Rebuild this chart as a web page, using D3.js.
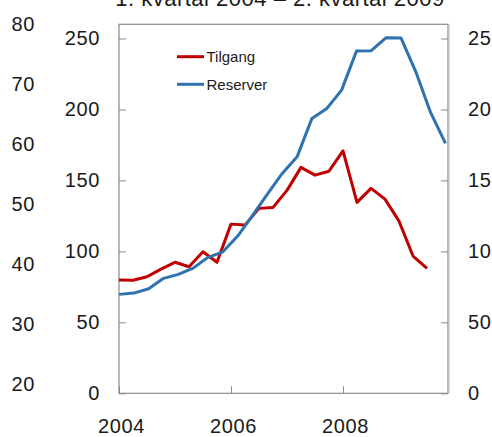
<!DOCTYPE html>
<html><head><meta charset="utf-8">
<script src="https://cdn.jsdelivr.net/npm/d3@7"></script>
<style>
html,body{margin:0;padding:0;background:#fff;overflow:hidden}
svg{display:block}
text{font-family:"Liberation Sans",Arial,sans-serif;fill:#1a1a1a}
</style></head>
<body>
<svg id="c" width="492" height="437"></svg>
<script>
// ---- data ----
const title = "1. kvartal 2004 – 2. kvartal 2009";
const seriesNames = ["Tilgang", "Reserver"];
const seriesColors = ["#c00000", "#2f73ae"];
const quarterStart = 2004;           // first quarter = 2004 Q1
const tilgang = [79.8,79.6,82.1,87.5,92.3,89.2,99.7,92.3,119.2,118.5,130.3,131.0,143.0,159.2,153.7,156.5,170.8,134.5,144.4,136.8,121.3,96.7,88.0];
const reserver = [69.7,70.6,73.7,81.0,83.8,88.2,95.8,99.7,110.8,125.3,140.4,154.9,166.6,193.7,200.7,213.6,241.1,241.4,250.6,250.4,226.5,197.7,176.1];
const yTicks = [0,50,100,150,200,250];
const outerTicks = [20,30,40,50,60,70,80];
const xTicks = [2004,2006,2008];

// ---- layout ----
const svg = d3.select("#c");
const L = 119, R = 448, T = 24.3, B = 393.3;

const x = d3.scaleLinear().domain([2004, 2009.875]).range([L, R]);
const xB = d3.scaleLinear().domain([0, reserver.length - 1]).range([L, R - 2.5]);
const y = d3.scaleLinear().domain([0, 260]).range([B, T]);
const yOuter = d3.scaleLinear().domain([20, 80]).range([384, 23.7]);

// title
svg.append("text").attr("x", 280).attr("y", 5.5).attr("text-anchor", "middle")
  .style("font-size", "22px").style("letter-spacing", "0.5px").text(title);

// axes
function styleAxis(g){
  g.select(".domain").remove();
  g.selectAll(".tick line").attr("stroke", "#8a8a8a").attr("stroke-width", 1);
  g.selectAll(".tick text").style("font-size", "20px").style("letter-spacing", "0.6px")
    .attr("fill", "#1a1a1a").attr("font-family", null);
}
svg.append("g").attr("transform", `translate(${L},0)`)
  .call(d3.axisLeft(y).tickValues(yTicks).tickSizeInner(-7).tickSizeOuter(0).tickPadding(19))
  .call(styleAxis);
svg.append("g").attr("transform", `translate(${R},0)`)
  .call(d3.axisRight(y).tickValues(yTicks).tickSizeInner(-7).tickSizeOuter(0).tickPadding(20))
  .call(styleAxis);
svg.append("g").attr("transform", `translate(0,${B})`)
  .call(d3.axisBottom(x).tickValues(xTicks).tickFormat(d3.format("d")).tickSizeInner(-7).tickSizeOuter(0).tickPadding(25.5))
  .call(styleAxis)
  .selectAll(".tick text").attr("dx", "2");
svg.append("g").attr("transform", `translate(35,0)`)
  .call(d3.axisLeft(yOuter).tickValues(outerTicks).tickSize(0).tickPadding(0))
  .call(styleAxis);

// frame
svg.append("rect").attr("x", L).attr("y", T).attr("width", R - L).attr("height", B - T)
  .attr("fill", "none").attr("stroke", "#8a8a8a").attr("stroke-width", 1.2);
svg.append("line").attr("x1", R + 1.2).attr("x2", R + 1.2).attr("y1", T).attr("y2", B)
  .attr("stroke", "#cfcfcf").attr("stroke-width", 1);

// lines
const lineA = d3.line().x((d, i) => x(quarterStart + i / 4)).y(d => y(d));
const lineB = d3.line().x((d, i) => xB(i)).y(d => y(d));
svg.append("path").datum(tilgang).attr("d", lineA).attr("fill", "none")
  .attr("stroke", seriesColors[0]).attr("stroke-width", 3).attr("stroke-linejoin", "round");
svg.append("path").datum(reserver).attr("d", lineB).attr("fill", "none")
  .attr("stroke", seriesColors[1]).attr("stroke-width", 3).attr("stroke-linejoin", "round");

// legend
const leg = svg.append("g").attr("transform", "translate(177,56.7)");
seriesNames.forEach((n, i) => {
  const g = leg.append("g").attr("transform", `translate(0,${i * 27.6})`);
  g.append("line").attr("x1", 0).attr("x2", 27).attr("y1", 0).attr("y2", 0)
    .attr("stroke", seriesColors[i]).attr("stroke-width", 3);
  g.append("text").attr("x", 29.5).attr("y", 5.5).style("font-size", "15px").attr("fill", "#2a2a2a").text(n);
});
</script>
</body></html>
